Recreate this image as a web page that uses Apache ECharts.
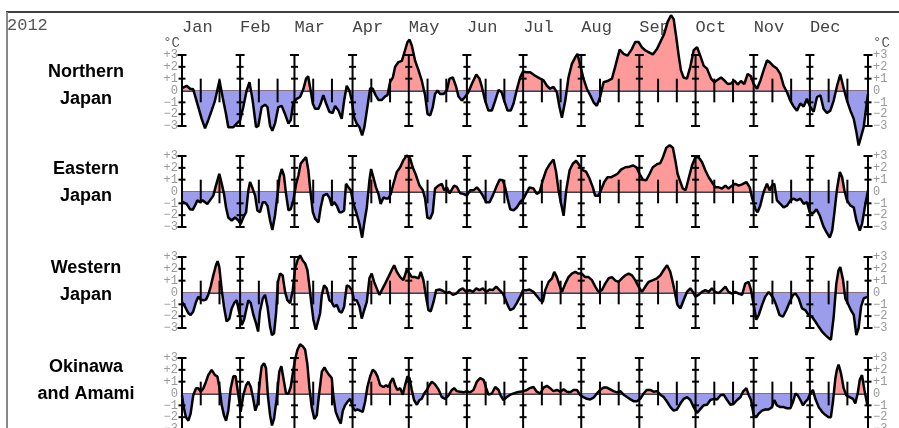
<!DOCTYPE html>
<html>
<head>
<meta charset="utf-8">
<script src="https://cdn.jsdelivr.net/npm/echarts@6/dist/echarts.min.js"></script>
<style>
html, body { margin: 0; padding: 0; background: #fff; }
#chart { width: 899px; height: 428px; }
</style>
</head>
<body>
<div id="chart"></div>
<script>
// labels
const yearLabel = '2012';
const months = ['Jan', 'Feb', 'Mar', 'Apr', 'May', 'Jun', 'Jul', 'Aug', 'Sep', 'Oct', 'Nov', 'Dec'];
const monthStarts = [0, 31, 60, 91, 121, 152, 182, 213, 244, 274, 305, 335, 366];
const regions = ['Northern\nJapan', 'Eastern\nJapan', 'Western\nJapan', 'Okinawa\nand Amami'];

// [day of year, anomaly degC]
const northern = [[0,0.2],[2.5,0.4],[4.3,0.15],[6,0.1],[7,0],[8.7,-1.4],[10.5,-2.4],[12.3,-3.2],[14,-2.5],[15.8,-1.7],[17.6,-0.85],[20,0.85],[21.7,-0.6],[23.5,-2],[24.7,-3.1],[27.4,-3.1],[29.2,-2.8],[31,-2.5],[32.7,-1.4],[34.5,0],[36,0.7],[37.7,-0.85],[39.5,-3.1],[40.7,-3],[42.5,-1.4],[44.3,-1.2],[45.6,-1.4],[47,-3],[48.2,-3.4],[49.6,-2.8],[51.4,-1.4],[53.2,-1.3],[55,-2],[56.8,-2.8],[58,-2.5],[59.4,-1],[61.2,-0.7],[63,-0.55],[64.8,0.15],[66.2,1],[67.3,1.2],[68.3,0.3],[69.8,-1.1],[71,-1.55],[72.8,-1.55],[74,-1.1],[75.4,-0.4],[76.9,-1.1],[78.6,-1.8],[80.4,-1.9],[81.7,-1.3],[83.5,-1.7],[85.2,-2.4],[86.5,-0.85],[87.9,0.4],[89.3,0],[90.6,-0.85],[91.8,-2.25],[93.2,-2.8],[94.7,-3.1],[96.1,-3.8],[97.3,-3.1],[98.9,-1.4],[100.4,0.2],[101.8,0.15],[103,-0.3],[104.8,-0.8],[106.6,-0.8],[108.4,-0.5],[109.6,-0.4],[111,0.7],[112.5,1.1],[113.7,2],[115.5,2.4],[117.3,2.5],[119,3.4],[120.3,4.1],[121.4,4.3],[122.6,3.8],[124.4,2.5],[126.2,1.7],[127.9,0.85],[129.7,-0.4],[131,-2],[132.4,-2.1],[133.8,-1.4],[135,-0.3],[136.3,0],[137.7,-0.3],[139.5,-0.3],[141.3,0],[142.7,1],[144.5,1.1],[146.3,0.3],[147.5,-0.5],[149.3,-0.85],[151,-0.55],[152.8,-0.15],[154.6,0.55],[157,1.35],[158.7,1],[160,0.3],[161.7,-0.85],[163.5,-1.7],[165.3,-1.7],[167.1,-0.85],[168.9,0.05],[170.6,-0.15],[171.9,-0.85],[173.7,-1.7],[175.4,-1.7],[176.9,-1.1],[178.6,0.05],[180.4,1.1],[181.9,1.6],[183.6,1.55],[185.8,1.55],[188.4,1.25],[191.1,1],[192.9,0.85],[194.7,0.4],[196.4,0.15],[198.2,0.3],[200,-0.15],[201.4,-1.4],[202.7,-2.3],[204.5,-0.85],[206.2,1.1],[208,2.25],[209.8,2.8],[211,3.1],[212.5,2.1],[214.2,1],[216,0.15],[217.8,-0.4],[219.6,-1],[221.3,-1.3],[223.1,-0.55],[224.9,0.7],[227,0.8],[229.4,1],[231.1,2],[233.5,3.45],[235.6,3.1],[237.7,2.95],[240,3.5],[241.8,4.1],[243.6,4.1],[245.4,3.65],[247.1,3.4],[248.9,3.25],[251.2,3.05],[253.4,3.5],[255.2,4.1],[257.3,4.8],[259.1,5.8],[260.9,6.35],[262.3,6.05],[263.7,4.5],[265,2.95],[266.2,1.7],[267.6,1.1],[269.4,1],[271.2,2],[273,3.4],[274.8,3.65],[276.5,2.95],[278.3,2.1],[280.1,1.85],[282.3,1],[284,0.7],[285.8,0.9],[287.6,1.1],[289.4,0.85],[291.1,0.55],[292.9,0.6],[294.7,0.85],[296.5,0.5],[298.2,0.8],[300,0.55],[301.8,1.4],[303.6,1.2],[305,0.55],[306.8,0.15],[308.6,0.85],[310.3,1.7],[312.1,2.55],[313.5,2.4],[315.3,2.1],[317.4,1.85],[319.2,1.4],[321,0.4],[322.8,-0.15],[324.5,-0.85],[326.3,-1.35],[328.1,-1.7],[329.9,-1.1],[331.7,-1.35],[333.4,-0.7],[335.2,-1.4],[337,-1.8],[338.8,-0.55],[340.6,-0.4],[342.3,-1.55],[344.1,-1.9],[345.9,-1.7],[347.7,-0.85],[349.5,0.4],[351.2,1.35],[353,0.2],[354.8,-0.85],[356.6,-1.7],[358.4,-2.4],[359.8,-3.5],[361,-4.65],[361.9,-4.8],[363.7,-3.1],[365.5,-0.85],[366,-0.3]];

const eastern = [[0,-0.85],[2.5,-1.05],[4.3,-1.5],[5.7,-1.55],[6.9,-1.2],[8.2,-0.75],[9.6,-0.9],[11,-0.75],[12.3,-0.9],[13.5,-1.05],[14.9,-0.75],[16.7,-0.35],[18.1,0.5],[19.9,1.5],[21.2,0.65],[22.4,-0.2],[23.5,-1.35],[24.7,-2.2],[26.5,-2.45],[28.3,-2.2],[30.1,-2.45],[31.3,-2.75],[32.7,-2.2],[34.2,-1.75],[35.4,0.1],[36.3,0.8],[37.7,0.25],[39,-0.35],[40.2,-1.6],[41.6,-1.75],[43.1,-0.9],[44.3,-0.9],[45.6,-1.2],[47,-2.45],[48.2,-3.25],[49.6,-2.05],[50.9,-0.35],[52,1.2],[53.2,1.9],[54.4,1.35],[55.5,-0.2],[56.8,-1.6],[58,-1.5],[59.4,-0.75],[60.9,0.65],[62.1,1.35],[63.3,2.35],[64.8,2.65],[66.2,2.9],[67.4,1.8],[68.3,0.35],[69.8,-1.75],[71,-2.3],[72.8,-2.6],[74,-1.35],[75.4,-0.35],[77.2,-0.2],[78.6,-0.5],[79.9,-1.2],[81.1,-0.9],[82.6,-1.2],[84,-1.75],[85.2,-1.75],[86.5,-1.6],[87.5,0.65],[88.8,0.35],[90,0.1],[91.5,-1.05],[93.2,-1.9],[94.7,-2.75],[96.1,-3.9],[97.3,-2.6],[98.6,-1.35],[100,0.95],[100.9,1.9],[102.1,1.2],[103.5,0.35],[104.8,-0.2],[106,-1.05],[107.5,-0.5],[108.9,-0.6],[110.1,-0.6],[111.4,-0.2],[112.8,0.65],[114.6,1.65],[116.4,2.05],[118.1,2.65],[119.9,3.05],[121.7,2.8],[123.1,2.05],[124.9,1.35],[126.7,0.5],[128.5,0.1],[129.7,-0.6],[130.9,-2.2],[132.4,-2.3],[133.8,-1.75],[135,0.25],[136.8,0.5],[138.6,0.65],[139.9,0.1],[141.3,0.35],[142.7,-0.15],[143.9,0.15],[145.2,0.5],[146.6,0.4],[148.4,-0.15],[150.2,-0.2],[152,-0.35],[153.7,0.1],[155.5,0.1],[157.3,0.35],[158.7,0.1],[160.5,-0.35],[162.3,-0.9],[164.1,-0.9],[165.8,-0.35],[167.6,0.35],[169.4,1],[171.2,0.95],[172.4,0.35],[173.7,-0.6],[175.1,-1.5],[176.9,-1.6],[178.6,-1.35],[180.4,-0.9],[182.2,-0.6],[184,-0.05],[185.4,0.35],[187.5,0.25],[189.3,-0.2],[190.8,-0.05],[192.5,0.95],[194.3,1.8],[196.4,2.35],[198.2,2.7],[199.6,1.65],[200.9,0.1],[202.1,-0.9],[203.6,-2.05],[205,0.1],[206.8,1.8],[208.5,2.35],[210.3,2.6],[212.1,2.2],[213.9,1.8],[215.7,1.65],[217.4,1.1],[219.2,0.35],[220.4,-0.35],[222.2,-0.35],[223.5,0.1],[225.3,0.8],[227,1.2],[228.8,1.2],[230.6,1.35],[232.4,1.5],[234.2,1.85],[236.5,2.05],[238.8,2.1],[240.6,2.2],[242.4,2.05],[244.1,1.5],[245.9,1],[247.7,0.95],[249.5,1.5],[251.2,2.05],[253.4,2.3],[255.2,2.4],[256.6,2.9],[258.4,3.7],[260.2,3.9],[261.9,3.7],[263.2,2.65],[264.4,1.5],[265.9,0.8],[267.2,0.25],[268.7,0.1],[270.3,1.1],[272.1,2.2],[273.9,2.9],[275.6,2.9],[277.4,2.5],[279.2,1.8],[281,1.2],[282.7,0.8],[284.5,0.35],[286.3,0.35],[288.1,0.25],[289.9,0.5],[291.6,0.25],[293.4,0.5],[295.2,0.65],[297,0.5],[298.8,0.6],[301.1,0.8],[302.9,0.35],[304.1,-0.5],[305.9,-1.5],[307.1,-1.75],[308.5,-1.2],[310.3,-0.05],[312.1,0.65],[313.5,0.1],[314.8,0.5],[316,0.65],[317.4,-0.75],[319.2,-1.05],[321,-1.35],[322.8,-1.2],[324.6,-0.75],[326.3,-0.6],[328.1,-0.75],[329.9,-0.6],[331.7,-1.05],[333.4,-0.9],[334.9,-1.75],[336.7,-1.85],[338.5,-1.5],[340.3,-2.05],[342.1,-2.9],[343.9,-3.45],[345.6,-3.9],[346.9,-3.3],[348.1,-1.75],[349.5,0.25],[351,1.65],[352.2,1.2],[353.4,0.1],[354.8,-0.75],[356.6,-1.2],[358.4,-1.35],[359.8,-2.45],[361.6,-3.3],[362.8,-2.75],[364.6,-1.05],[366,0.1]];

const western = [[0,-0.8],[1.6,-1.2],[3.4,-1.75],[4.6,-1.9],[6,-1.6],[7.5,-0.8],[8.7,-0.35],[10,-0.6],[11.4,-0.65],[12.8,-0.6],[14,-0.2],[15.3,0.5],[16.7,1.45],[18.1,2.3],[19,2.65],[19.9,2.15],[21.2,0.2],[22.4,-1.2],[23.8,-2.45],[25.3,-2.2],[26.5,-1.35],[27.8,-0.9],[29.2,-0.65],[30.6,-1.75],[31.9,-2.75],[33.1,-2.3],[34.2,-1.5],[35.4,-0.65],[36.7,-0.9],[38.1,-1.9],[39.5,-2.6],[40.6,-3.3],[41.6,-1.6],[43.1,-0.5],[44.3,-0.2],[45.6,-1.2],[47,-2.9],[48,-3.6],[49.1,-3.45],[50.2,-1.75],[51.2,0.9],[52.3,1.6],[53.7,1.45],[55,0.05],[56.2,-0.65],[57.7,-0.9],[59.1,0.2],[60.3,2],[61.6,2.7],[63,3.15],[64.4,2.7],[65.7,2.45],[66.9,1.9],[68,0.5],[69,-0.9],[70.1,-2.3],[71.4,-3.15],[72.4,-3.3],[73.7,-1.75],[74.6,-0.2],[75.8,0.6],[77.2,0.35],[78.6,-0.65],[79.9,-0.8],[81.1,-1.2],[82.6,-1.05],[84,-1.6],[85.2,-1.7],[86.5,-1.2],[87.9,0.6],[89.3,0.5],[90.6,0.2],[91.8,-0.65],[93.2,-0.65],[94.7,-1.2],[95.9,-2.2],[97.2,-1.5],[98.6,-0.8],[100,1.2],[101.2,1.6],[102.5,0.9],[103.9,0.35],[105.3,-0.2],[106.6,0.2],[108.4,0.75],[110.1,1.3],[111.9,1.9],[113.2,2.3],[114.6,1.75],[116.4,1.3],[118.1,1.05],[119.9,1.9],[121.4,1.6],[122.6,1.3],[124.4,1.3],[126.2,1.2],[127.4,1.75],[128.8,1.05],[130.2,-0.35],[131.5,-1.5],[132.7,-1.6],[134.2,-0.8],[135.6,0.2],[137.4,0.25],[139.1,0.15],[140.9,-0.05],[142.7,0.05],[144.5,-0.2],[146.3,-0.1],[148,0.2],[149.8,0.35],[151.6,0.05],[153.4,0.2],[155.2,0.05],[157,0.35],[158.7,0.2],[160.5,0.35],[162.3,0.05],[164.1,0.25],[165.8,0.2],[167.6,0.5],[169.4,0.2],[171.2,-0.1],[172.4,-0.5],[173.7,-1.05],[175.1,-1.5],[176.9,-1.35],[178.6,-0.9],[180.4,-0.35],[181.9,0.2],[184,0.2],[185.4,0.25],[187.5,0.05],[189.3,-0.3],[191.1,-0.65],[192.5,-0.8],[193.8,0.2],[195.6,0.9],[197.4,1.2],[198.6,1.75],[200,1.3],[201.4,0.6],[202.7,0.05],[204.5,0.75],[206.2,1.3],[208,1.6],[209.8,1.75],[211.5,1.6],[213.3,1.6],[215.1,1.3],[216.9,1.3],[218.7,1.05],[220.5,0.5],[222.2,0.05],[224,0.2],[225.8,0.75],[227.6,1.2],[229.4,1.3],[231.2,1],[232.9,0.9],[234.7,1.2],[236.5,1.45],[238.3,1.6],[240.1,1.45],[241.8,1.05],[243.6,0.5],[245.4,0.05],[247.2,0.5],[249,0.9],[251.3,1.05],[253.4,1.2],[255.2,1.45],[257,1.9],[258.8,2.3],[260.5,1.75],[262,0.75],[263.2,-0.2],[264.4,-1.05],[265.9,-1.35],[267.6,-0.65],[269.4,0.05],[271.2,0.35],[272.6,0.05],[273.9,-0.35],[275.6,-0.2],[277.4,0.05],[279.2,0.2],[281,0.05],[282.7,0.35],[284.5,0.05],[286.3,-0.05],[288.1,0.2],[289.9,0.5],[291.6,0.05],[293.4,-0.1],[295.2,0.05],[297,-0.1],[298.8,-0.2],[300.5,0.75],[302.3,0.9],[303.6,0.2],[305,-1.05],[306.4,-2.3],[307.7,-1.9],[309.5,-1.05],[311.2,-0.35],[313,0.05],[314.2,-0.2],[315.6,-0.5],[317,-1.05],[318.8,-1.9],[320.6,-2.05],[322.4,-1.5],[324.2,-0.8],[326,-0.2],[327.4,-0.1],[329,-0.5],[330.8,-1.35],[332.6,-1.5],[334.3,-1.9],[336.1,-2.05],[337.9,-2.45],[339.7,-2.9],[341.5,-3.3],[343.3,-3.6],[345,-3.85],[346.2,-4],[347.7,-2.05],[349.1,0.75],[350.3,1.9],[351.2,2.15],[352.7,1.05],[353.9,-0.5],[355.2,-0.9],[356.9,-1.5],[358.4,-1.9],[359.8,-3.6],[361,-3],[362.3,-1.2],[363.7,-0.5],[366,-0.35]];

const okinawa = [[0,-0.15],[0.9,-1.15],[2.1,-2],[3.4,-2.3],[4.6,-1.7],[6,-0.15],[7.5,0.45],[8.7,0.45],[10,0.15],[11.4,0.45],[12.8,1],[14,1.55],[15.8,2],[17.6,1.55],[18.9,1.45],[19.9,0.55],[21.2,-1],[22.4,-1.85],[23.5,-2.3],[24.7,-1.45],[26,0.45],[27.4,1.45],[28.6,1.45],[30.1,-0.15],[31.3,-1.55],[32.7,-0.15],[34.2,0.7],[35.4,1],[36.7,0.55],[38.1,-0.55],[39.1,-1.45],[40.4,-0.85],[41.6,1.15],[42.5,2.3],[43.8,2.55],[44.8,2.15],[45.9,-0.3],[47,-1.85],[48,-2.7],[49.1,-2.15],[50.5,-0.45],[51.9,1.85],[53,2.3],[54.1,1.3],[55.5,0],[56.8,0],[58,0.55],[59.1,1.7],[60.3,2.85],[61.6,3.7],[63,4.15],[64.4,4],[65.7,3.7],[66.9,2.45],[68,0.45],[69.2,-1.15],[70.6,-2.15],[71.9,-1.85],[73.3,0.15],[74.6,1.85],[76,2.2],[77.2,1.85],[78.6,1.55],[79.9,1.3],[80.8,-0.3],[82,-1.55],[83.5,-2.15],[84.7,-2.55],[85.8,-1.45],[87,-1],[88.3,-0.7],[89.7,-0.45],[91.1,-1.15],[92.3,-1.45],[93.6,-1.35],[95,-1.45],[96.4,-1.55],[97.7,-0.7],[98.9,0.55],[100.4,1.45],[101.8,2],[103,1.85],[104.3,1.45],[105.7,0.7],[107.5,0.55],[108.9,0.7],[110.1,0.55],[111.4,1],[112.5,1.3],[113.7,0.7],[114.9,0.3],[116.4,0.45],[117.8,-0.1],[119,0.7],[120.3,1.45],[121.4,1.3],[122.6,0.3],[123.8,-0.55],[125.3,-0.95],[126.7,-0.55],[127.9,-0.45],[129.2,0],[130.6,0.3],[132,0.7],[133.3,1],[135.1,0.75],[136.8,0.35],[138.6,-0.3],[140.4,-0.45],[142.2,-0.15],[144,0.3],[145.2,0.45],[146.6,0.2],[148.4,0.15],[150.2,0.1],[152,0.2],[153.7,0.1],[155.5,0.3],[157.3,1],[159.1,1.3],[160.9,1.15],[162.3,0.45],[163.5,-0.1],[165.3,0],[167.1,0.55],[168.9,0.3],[170.1,-0.2],[171.5,-0.55],[173.3,-0.3],[175.1,-0.1],[176.9,0],[178.6,0.1],[180.4,0.15],[182.2,0.2],[184,0.3],[185.4,0.45],[187.5,0.55],[189.3,0.15],[191.1,0],[192.9,0.5],[194.7,0.65],[196.4,0.45],[198.2,0.2],[200,0.3],[201.8,0.15],[203.6,0.35],[205.4,0.15],[207.1,0.1],[208.9,0.3],[210.7,0.3],[212.5,-0.15],[214.2,-0.3],[216,-0.45],[217.8,-0.5],[219.6,-0.35],[221.3,0],[223.1,0.3],[224.9,0.5],[226.7,0.5],[228.5,0.35],[230.2,0.2],[232,0.1],[233.8,0.2],[235.6,-0.1],[237.4,-0.3],[239.3,-0.5],[240.9,-0.65],[242.7,-0.65],[244.5,-0.45],[246.3,0],[248,0.3],[249.8,0.3],[251.6,0.15],[253.4,0.2],[255.2,-0.1],[257,-0.3],[258.8,-0.7],[260.6,-1.15],[262.3,-1.45],[264.1,-1.35],[265.9,-0.85],[267.7,-0.45],[269.5,-0.3],[271.2,-0.55],[273,-1.15],[274.8,-1.65],[276.6,-1.3],[278.3,-1],[280.1,-0.95],[281.9,-0.55],[283.7,-0.45],[285.5,-0.5],[287.3,-0.15],[289,-0.1],[290.8,-0.55],[292.6,-0.95],[294.4,-0.85],[296.2,-0.55],[298,-0.3],[299.3,0.15],[301.1,0.45],[302.3,-0.1],[303.6,-0.55],[305,-1.85],[306.4,-2],[307.7,-1.7],[309.5,-1.45],[311.2,-1.35],[313,-1.35],[314.8,-1.15],[316,-0.55],[317.4,-1],[319.2,-1.15],[321,-1.15],[322.8,-1.25],[324.6,-1.25],[326,-0.7],[327.3,0],[328.5,-0.15],[329.9,-0.55],[331.3,-1],[332.6,-0.7],[333.8,-0.5],[335.2,0],[336.6,0.3],[337.9,-0.45],[339.7,-1.15],[341.5,-1.55],[343.2,-1.8],[345,-2],[346.2,-2],[347.3,-0.7],[348.6,1.3],[349.4,2],[350.3,2.45],[351.6,1.7],[353,0.45],[354.4,-0.15],[356.2,-0.3],[358,-0.45],[359.2,-0.85],[360.5,0],[361.6,1.15],[362.8,1.55],[364.1,0.3],[365.5,-0.85],[366,-1]];

const panels = [northern, eastern, western, okinawa];

// tick marks: 1 = month boundary, 0 = 11th / 21st of month
const tickMarks = [];
monthStarts.forEach(function (d, i) {
    tickMarks.push([d, 1]);
    if (i < 12) {
        tickMarks.push([d + 10, 0]);
        tickMarks.push([d + 20, 0]);
    }
});

const chart = echarts.init(document.getElementById('chart'));

const tops = [55, 156, 257, 358];
const labelCenters = [86, 183, 282, 381];
const monoFont = 'Liberation Mono';
const warm = '#ff9a9a';
const cold = '#9c9cec';

function signLabel(v) {
    if (v > 0) return '+' + v;
    if (v < 0) return '\u2212' + (-v);
    return '0';
}

function renderTick(params, api) {
    const day = api.value(0);
    const major = api.value(1) === 1;
    const lim = major ? 3 : 1;
    const p1 = api.coord([day, lim]);
    const p2 = api.coord([day, -lim]);
    const children = [{
        type: 'line',
        shape: { x1: p1[0], y1: p1[1], x2: p2[0], y2: p2[1] },
        style: { stroke: '#000', lineWidth: 2 }
    }];
    if (major) {
        for (let v = -3; v <= 3; v++) {
            if (v === 0) continue;
            const p = api.coord([day, v]);
            const hw = Math.abs(v) === 3 ? 4.5 : 3.5;
            children.push({
                type: 'line',
                shape: { x1: p[0] - hw, y1: p[1], x2: p[0] + hw, y2: p[1] },
                style: { stroke: '#000', lineWidth: 2 }
            });
        }
    }
    return { type: 'group', children: children };
}

const grid = [], xAxis = [], yAxis = [], series = [], graphic = [];

panels.forEach(function (data, i) {
    grid.push({ left: 182, right: 31, top: tops[i], height: 71, outerBoundsMode: 'none' });
    xAxis.push({
        type: 'value', gridIndex: i, min: 0, max: 366,
        axisLine: { onZero: true, lineStyle: { color: '#000', width: 1.5 } },
        axisTick: { show: false }, axisLabel: { show: false }, splitLine: { show: false }
    });
    ['left', 'right'].forEach(function (pos) {
        yAxis.push({
            type: 'value', gridIndex: i, position: pos, min: -3, max: 3, interval: 1,
            name: i === 0 ? '\u00b0C' : '',
            nameLocation: 'end', nameGap: 5, nameMoveOverlap: false,
            nameTextStyle: {
                fontFamily: monoFont, fontSize: 14, color: '#555',
                align: pos === 'left' ? 'right' : 'left',
                padding: pos === 'left' ? [0, 2, 0, 0] : [0, 0, 0, 5]
            },
            axisLine: { show: false, onZero: false }, axisTick: { show: false }, splitLine: { show: false },
            axisLabel: {
                formatter: signLabel, margin: pos === 'left' ? 4 : 5,
                showMinLabel: true, showMaxLabel: true, hideOverlap: false,
                fontFamily: monoFont, fontSize: 12, lineHeight: 10, color: '#999'
            }
        });
    });
    series.push({
        type: 'line', xAxisIndex: i, yAxisIndex: i * 2, data: data,
        symbol: 'none', clip: false, silent: true, z: 2,
        lineStyle: { color: '#000', width: 2.5 },
        areaStyle: { opacity: 1, color: cold }
    });
    graphic.push({
        type: 'text', x: 86, y: labelCenters[i], silent: true,
        style: {
            text: regions[i], align: 'center', verticalAlign: 'middle',
            font: 'bold 18px "Liberation Sans"', fill: '#000', lineHeight: 27
        }
    });
});

panels.forEach(function (data, i) {
    series.push({
        type: 'custom', xAxisIndex: i, yAxisIndex: i * 2, data: tickMarks,
        renderItem: renderTick, clip: false, silent: true, z: 3
    });
});

// month names across the top
xAxis.push({
    type: 'value', gridIndex: 0, position: 'top', min: 0, max: 366,
    axisLine: { show: false, onZero: false }, axisTick: { show: false }, splitLine: { show: false },
    axisLabel: {
        customValues: monthStarts.slice(0, 12),
        formatter: function (v) { return months[monthStarts.indexOf(v)]; },
        align: 'left', margin: 19, fontFamily: monoFont, fontSize: 17, color: '#444'
    }
});

graphic.push(
    { type: 'line', shape: { x1: 6, y1: 12, x2: 899, y2: 12 }, style: { stroke: '#000', lineWidth: 1.5 } },
    { type: 'line', shape: { x1: 7, y1: 12, x2: 7, y2: 428 }, style: { stroke: '#888', lineWidth: 2 } },
    { type: 'text', x: 7, y: 25, style: { text: yearLabel, font: '17px "Liberation Mono"', fill: '#555', verticalAlign: 'middle' } }
);

chart.setOption({
    animation: false,
    grid: grid,
    xAxis: xAxis,
    yAxis: yAxis,
    series: series,
    graphic: graphic
});

// warm above the zero line, cold below: split the fill at the pixel row of 0
chart.setOption({
    series: panels.map(function (data, i) {
        const y0 = chart.convertToPixel({ gridIndex: i }, [0, 0])[1];
        return {
            areaStyle: {
                opacity: 1,
                color: new echarts.graphic.LinearGradient(0, y0 - 0.01, 0, y0 + 0.01, [
                    { offset: 0, color: warm },
                    { offset: 1, color: cold }
                ], true)
            }
        };
    })
});
</script>
</body>
</html>
